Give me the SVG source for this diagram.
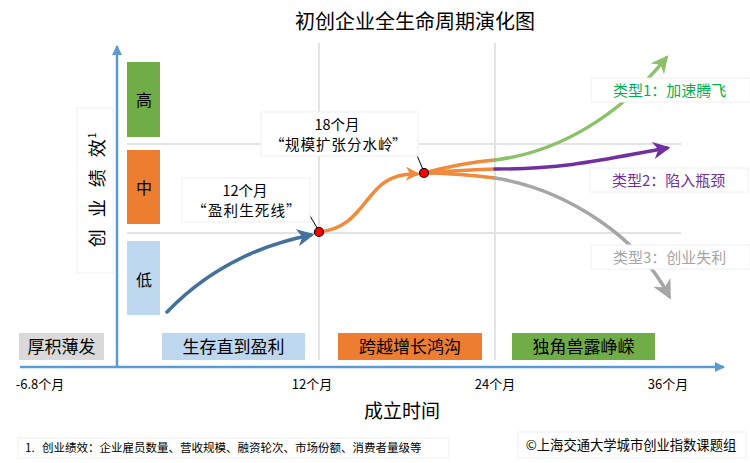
<svg xmlns="http://www.w3.org/2000/svg" width="750" height="463" viewBox="0 0 750 463">
<defs>
<style>
text{font-family:"Noto Sans CJK SC","Liberation Sans",sans-serif;fill:#000}
.grid{stroke:#e3e3e3;stroke-width:2;fill:none}
.axis{stroke:#5b9bd5;stroke-width:2.5;fill:none}
.lbl{fill:#fff;stroke:#f0f0f0;stroke-width:1}
.stage{font-size:17px;text-anchor:middle}
.tick{font-size:13px;text-anchor:middle}
.lvl{font-size:16px;text-anchor:middle}
.curve{fill:none;stroke-width:3.5;stroke-linecap:round}
.dot{fill:#ff0000;stroke:#000;stroke-width:1.2}
.lead{fill:none;stroke:#000;stroke-width:1}
.type{font-size:15px}
.call{font-size:14.5px}
</style>
<marker id="aAxis" viewBox="0 0 10 10" refX="9" refY="5" markerWidth="4" markerHeight="4" orient="auto"><path d="M0,0 L10,5 L0,10 z" fill="#5b9bd5"/></marker>
<marker id="aBlue" viewBox="0 0 10 10" refX="8" refY="5" markerWidth="5" markerHeight="5" orient="auto" markerUnits="strokeWidth"><path d="M0,0 L10,5 L0,10 L3,5 z" fill="#41719c"/></marker>
<marker id="aOrange" viewBox="0 0 10 10" refX="8" refY="5" markerWidth="4" markerHeight="4" orient="auto" markerUnits="strokeWidth"><path d="M0,0 L10,5 L0,10 L3,5 z" fill="#f08a3c"/></marker>
<marker id="aGreen" viewBox="0 0 10 10" refX="8" refY="5" markerWidth="5" markerHeight="5" orient="auto" markerUnits="strokeWidth"><path d="M0,0 L10,5 L0,10 L3,5 z" fill="#8cc06b"/></marker>
<marker id="aPurple" viewBox="0 0 10 10" refX="8" refY="5" markerWidth="5" markerHeight="5" orient="auto" markerUnits="strokeWidth"><path d="M0,0 L10,5 L0,10 L3,5 z" fill="#7030a0"/></marker>
<marker id="aGray" viewBox="0 0 10 10" refX="8" refY="5" markerWidth="5.5" markerHeight="5.5" orient="auto" markerUnits="strokeWidth"><path d="M0,0 L10,5 L0,10 L3,5 z" fill="#a6a6a6"/></marker>
</defs>
<rect width="750" height="463" fill="#fff"/>

<text x="415" y="29" font-size="20" text-anchor="middle">初创企业全生命周期演化图</text>

<g id="grid">
<line class="grid" x1="319" y1="43" x2="319" y2="360"/>
<line class="grid" x1="495" y1="43" x2="495" y2="360"/>
<line class="grid" x1="127" y1="144" x2="681" y2="144"/>
<line class="grid" x1="127" y1="233" x2="681" y2="233"/>
</g>

<g id="axes">
<line class="axis" x1="117" y1="368" x2="117" y2="46" marker-end="url(#aAxis)"/>
<line class="axis" x1="20" y1="367" x2="724" y2="367" marker-end="url(#aAxis)"/>
</g>

<g id="ylabel">
<rect class="lbl" x="77" y="108" width="36" height="165"/>
<text transform="translate(104,190) rotate(-90)" font-size="18" text-anchor="middle"><tspan letter-spacing="4">创 业 绩 效</tspan><tspan font-size="10" dy="-8" dx="-3">1</tspan></text>
</g>

<g id="level-high"><rect x="127" y="62" width="33" height="75" fill="#70ad47"/><text class="lvl" x="144" y="106">高</text></g>
<g id="level-mid"><rect x="127" y="150" width="33" height="74" fill="#ed7d31"/><text class="lvl" x="144" y="194">中</text></g>
<g id="level-low"><rect x="127" y="241" width="33" height="74" fill="#bdd7ee"/><text class="lvl" x="144" y="286">低</text></g>

<g id="stage-0"><rect x="19" y="333" width="85" height="27" fill="#d9d9d9"/><text class="stage" x="61.5" y="352.5">厚积薄发</text></g>
<g id="stage-1"><rect x="162" y="333" width="143" height="27" fill="#bdd7ee"/><text class="stage" x="233.5" y="352.5">生存直到盈利</text></g>
<g id="stage-2"><rect x="338" y="333" width="144" height="27" fill="#ed7d31"/><text class="stage" x="410" y="352.5">跨越增长鸿沟</text></g>
<g id="stage-3"><rect x="512" y="333" width="143" height="27" fill="#70ad47"/><text class="stage" x="583.5" y="352.5">独角兽露峥嵘</text></g>

<g id="ticks">
<text class="tick" x="40" y="389">-6.8个月</text>
<text class="tick" x="312" y="389">12个月</text>
<text class="tick" x="495" y="389">24个月</text>
<text class="tick" x="668" y="389">36个月</text>
</g>
<text x="402" y="418" font-size="19" text-anchor="middle">成立时间</text>

<g id="connectors">
<path class="curve" stroke="#41719c" d="M167,312 Q225,252 311,235" marker-end="url(#aBlue)"/>
<path class="curve" stroke="#f08a3c" stroke-width="3" d="M319,232 C372,226 362,172 417,174" marker-end="url(#aOrange)"/>
<path class="curve" stroke="#f08a3c" stroke-width="3" d="M424,173 C450,166 470,162 495,160"/>
<path class="curve" stroke="#f08a3c" stroke-width="3" d="M424,173 C450,171 470,170 495,169"/>
<path class="curve" stroke="#f08a3c" stroke-width="3" d="M424,173 C450,173 470,175 495,178"/>
<path class="curve" stroke="#8cc06b" stroke-width="3" d="M495,160 C560,152 620,115 666,58" marker-end="url(#aGreen)"/>
<path class="curve" stroke="#7030a0" stroke-width="3" d="M495,169 C570,169 610,158 667,148" marker-end="url(#aPurple)"/>
<path class="curve" stroke="#a6a6a6" stroke-width="3" d="M495,178 C570,190 640,240 669,296" marker-end="url(#aGray)"/>
<polyline class="lead" points="295,211 307,211 319,231"/>
<polyline class="lead" points="400,146 413,146 424,172"/>
</g>

<g id="callout-12">
<rect class="lbl" x="182" y="178" width="128" height="44"/>
<text class="call" x="245" y="196" text-anchor="middle">12个月</text>
<text class="call" x="192 208 223.6 239.2 254.8 270.4 286" y="216">“盈利生死线”</text>
</g>
<g id="callout-18">
<rect class="lbl" x="261" y="112" width="157" height="44"/>
<text class="call" x="337" y="130" text-anchor="middle">18个月</text>
<text class="call" x="270 285 300.5 316 331.5 347 362.5 378 392" y="150">“规模扩张分水岭”</text>
</g>
<circle class="dot" cx="319" cy="232" r="4.5"/>
<circle class="dot" cx="424" cy="173" r="4.5"/>

<g id="type-1"><rect class="lbl" x="591" y="78" width="159" height="24"/><text class="type" x="613" y="96" style="fill:#00b050">类型1：加速腾飞</text></g>
<g id="type-2"><rect class="lbl" x="590" y="168" width="158" height="24"/><text class="type" x="612" y="186" style="fill:#7030a0">类型2：陷入瓶颈</text></g>
<g id="type-3"><rect class="lbl" x="591" y="245" width="159" height="24"/><text class="type" x="613" y="263" style="fill:#a6a6a6">类型3：创业失利</text></g>

<g id="footnote"><rect class="lbl" x="18" y="438" width="431" height="20"/><text x="25" y="452" font-size="11.5">1.<tspan x="42">创业绩效：企业雇员数量、营收规模、融资轮次、市场份额、消费者量级等</tspan></text></g>
<g id="copyright"><rect class="lbl" x="518" y="432" width="228" height="26"/><text x="631" y="450" font-size="13.3" text-anchor="middle">©上海交通大学城市创业指数课题组</text></g>
</svg>
